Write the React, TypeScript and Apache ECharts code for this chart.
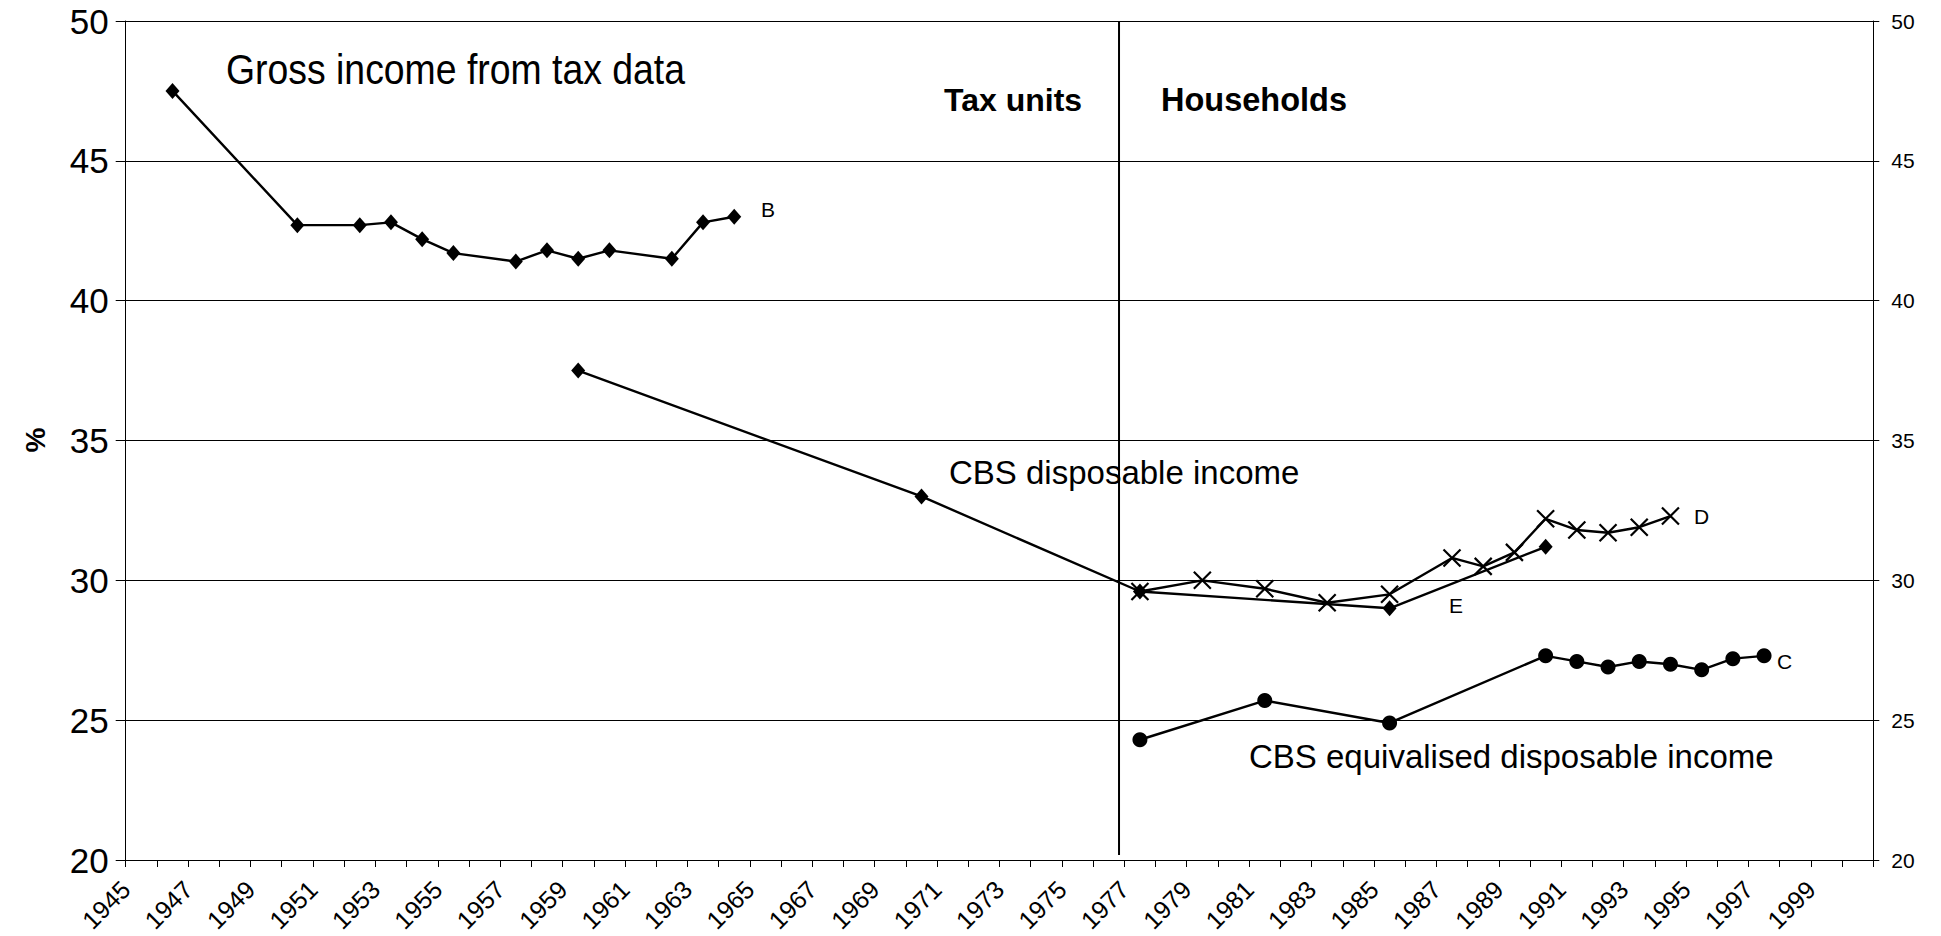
import React, { useEffect, useRef } from 'react';
import * as echarts from 'echarts';

// x categories (one per year); data points sit in the middle of each year band
const CATEGORIES = [
  '1945','1946','1947','1948','1949','1950','1951','1952','1953','1954',
  '1955','1956','1957','1958','1959','1960','1961','1962','1963','1964',
  '1965','1966','1967','1968','1969','1970','1971','1972','1973','1974',
  '1975','1976','1977','1978','1979','1980','1981','1982','1983','1984',
  '1985','1986','1987','1988','1989','1990','1991','1992','1993','1994',
  '1995','1996','1997','1998','1999','2000',
];
const AXIS_MIN_YEAR = 1945;
const AXIS_MAX_YEAR = 2001;
const Y_MIN = 20;
const Y_MAX = 50;
const Y_STEP = 5;

// B: Gross income from tax data (tax units)
const B_YEARS = [1946, 1950, 1952, 1953, 1954, 1955, 1957, 1958, 1959, 1960, 1962, 1963, 1964];
const B_VALUES = [47.5, 42.7, 42.7, 42.8, 42.2, 41.7, 41.4, 41.8, 41.5, 41.8, 41.5, 42.8, 43.0];

// E: CBS disposable income
const E_YEARS = [1959, 1970, 1977, 1985, 1990];
const E_VALUES = [37.5, 33.0, 29.6, 29.0, 31.2];

// D: households
const D_YEARS = [1977, 1979, 1981, 1983, 1985, 1987, 1988, 1989, 1990, 1991, 1992, 1993, 1994];
const D_VALUES = [29.6, 30.0, 29.7, 29.2, 29.5, 30.8, 30.5, 31.0, 32.2, 31.8, 31.7, 31.9, 32.3];

// C: CBS equivalised disposable income
const C_YEARS = [1977, 1981, 1985, 1990, 1991, 1992, 1993, 1994, 1995, 1996, 1997];
const C_VALUES = [24.3, 25.7, 24.9, 27.3, 27.1, 26.9, 27.1, 27.0, 26.8, 27.2, 27.3];

// divider between tax units and households
const DIVIDER_YEAR = 1976.83;
const DIVIDER_BOTTOM = 20.18;

const FONT = '"Liberation Sans", Arial, Helvetica, sans-serif';

const pairs = (years: number[], values: number[]) => years.map((y, i) => [String(y), values[i]]);

export default function App() {
  const ref = useRef<HTMLDivElement>(null);
  useEffect(() => {
    if (!ref.current) return;
    const chart = echarts.init(ref.current, undefined, { renderer: 'svg' });
    const black = '#000';
    const lineStyle = { color: black, width: 2.4 };
    const txt = (text: string, x: number, y: number, fontSize: number, extra: any = {}) => ({
      type: 'text',
      x,
      y,
      ...extra,
      style: {
        text,
        fontSize,
        fontFamily: FONT,
        fill: black,
        align: 'left',
        verticalAlign: 'middle',
        ...(extra.style || {}),
      },
    });
    chart.setOption({
      animation: false,
      backgroundColor: '#fff',
      grid: { left: 125.7, right: 67.7, top: 21, bottom: 76, containLabel: false },
      xAxis: [
        {
          type: 'category',
          data: CATEGORIES,
          boundaryGap: true,
          show: false,
        },
        {
          type: 'value',
          min: AXIS_MIN_YEAR,
          max: AXIS_MAX_YEAR,
          interval: 1,
          position: 'bottom',
          axisLine: { show: true, lineStyle: { color: black, width: 1 } },
          axisTick: { show: true, inside: false, length: 7, lineStyle: { color: black, width: 1 } },
          splitLine: { show: false },
          axisLabel: {
            rotate: 45,
            margin: 25,
            fontSize: 25,
            fontFamily: FONT,
            color: black,
            showMinLabel: true,
            showMaxLabel: true,
            formatter: (v: number) => (v % 2 === 1 && v < 2000 ? String(v) : ''),
          },
        },
      ],
      yAxis: [
        {
          type: 'value',
          min: Y_MIN,
          max: Y_MAX,
          interval: Y_STEP,
          position: 'left',
          axisLine: { show: true, lineStyle: { color: black, width: 1 } },
          axisTick: { show: true, inside: false, length: 10, lineStyle: { color: black, width: 1 } },
          splitLine: { show: true, lineStyle: { color: black, width: 1 } },
          axisLabel: { fontSize: 35, fontFamily: FONT, color: black, margin: 17 },
        },
        {
          type: 'value',
          min: Y_MIN,
          max: Y_MAX,
          interval: Y_STEP,
          position: 'right',
          axisLine: { show: true, lineStyle: { color: black, width: 1 } },
          axisTick: { show: true, inside: false, length: 6, lineStyle: { color: black, width: 1 } },
          splitLine: { show: false },
          axisLabel: { fontSize: 21, fontFamily: FONT, color: black, margin: 18 },
        },
      ],
      series: [
        {
          name: 'divider',
          type: 'line',
          xAxisIndex: 1,
          yAxisIndex: 0,
          data: [
            [DIVIDER_YEAR, Y_MAX],
            [DIVIDER_YEAR, DIVIDER_BOTTOM],
          ],
          showSymbol: false,
          symbol: 'none',
          lineStyle: { color: black, width: 2 },
          silent: true,
        },
        {
          name: 'B',
          type: 'line',
          xAxisIndex: 0,
          yAxisIndex: 0,
          data: pairs(B_YEARS, B_VALUES),
          symbol: 'diamond',
          symbolSize: [14, 16],
          lineStyle,
          itemStyle: { color: black },
        },
        {
          name: 'E',
          type: 'line',
          xAxisIndex: 0,
          yAxisIndex: 0,
          data: pairs(E_YEARS, E_VALUES),
          symbol: 'diamond',
          symbolSize: [14, 16],
          lineStyle,
          itemStyle: { color: black },
        },
        {
          name: 'D',
          type: 'line',
          xAxisIndex: 0,
          yAxisIndex: 0,
          data: pairs(D_YEARS, D_VALUES),
          symbol: 'path://M0,0L10,10M10,0L0,10',
          symbolSize: 17,
          lineStyle,
          itemStyle: { color: 'rgba(0,0,0,0)', borderColor: black, borderWidth: 2.2 },
        },
        {
          name: 'C',
          type: 'line',
          xAxisIndex: 0,
          yAxisIndex: 0,
          data: pairs(C_YEARS, C_VALUES),
          symbol: 'circle',
          symbolSize: 15,
          lineStyle,
          itemStyle: { color: black },
        },
      ],
      graphic: [
        txt('Gross income from tax data', 226, 69, 42, { scaleX: 0.89, originX: 0, originY: 0 }),
        txt('Tax units', 944, 100, 32, { style: { fontWeight: 'bold' } }),
        txt('Households', 1161, 100, 32.5, { style: { fontWeight: 'bold' } }),
        txt('CBS disposable income', 949, 472, 33),
        txt('CBS equivalised disposable income', 1249, 756, 33),
        txt('B', 761, 209, 21),
        txt('D', 1694, 516, 21),
        txt('E', 1449, 605, 21),
        txt('C', 1777, 661, 21),
        {
          type: 'text',
          x: 35,
          y: 440,
          rotation: Math.PI / 2,
          style: {
            text: '%',
            fontSize: 28,
            fontWeight: 'bold',
            fontFamily: FONT,
            fill: black,
            align: 'center',
            verticalAlign: 'middle',
          },
        },
      ],
    });
    return () => chart.dispose();
  }, []);
  return (
    <div
      ref={ref}
      style={{ position: 'fixed', left: 0, top: 0, width: 1941, height: 936, background: '#fff' }}
    />
  );
}
